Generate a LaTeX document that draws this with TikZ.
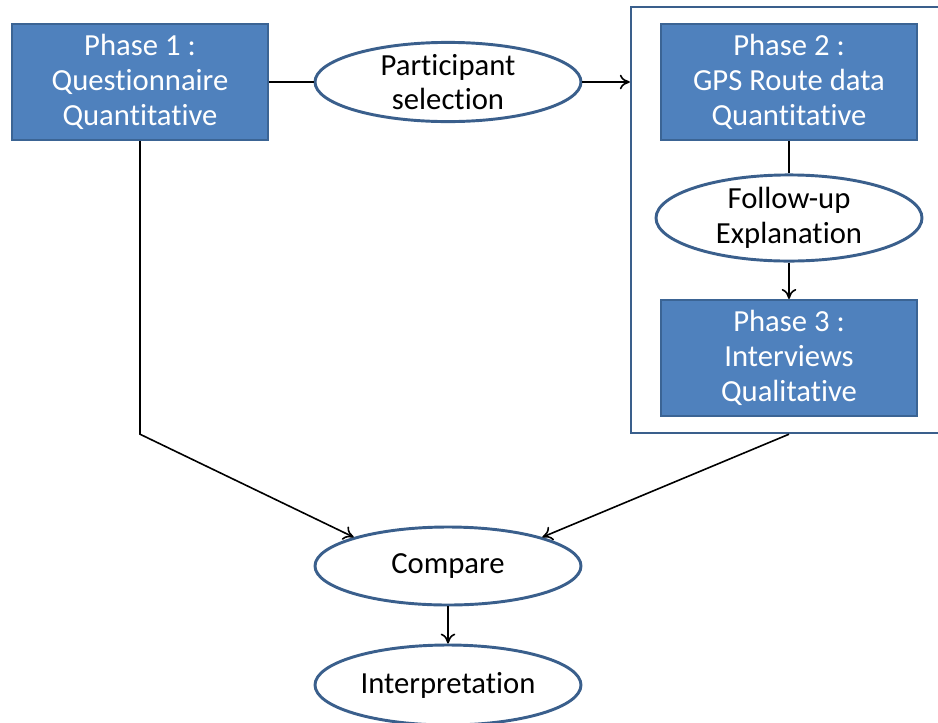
\documentclass[tikz,border=0pt]{standalone}
\usepackage{fontspec}
\setmainfont[Ligatures=NoCommon]{Carlito}
\usetikzlibrary{shapes.geometric,arrows.meta}
\definecolor{boxfill}{HTML}{4F81BD}
\definecolor{boxline}{HTML}{3B6494}
\definecolor{ovalline}{HTML}{3A5F8C}
\tikzset{
  phasebox/.style={rectangle, draw=boxline, line width=1.6pt, fill=boxfill,
    text=white, align=center, minimum width=192pt, minimum height=87pt,
    font=\fontsize{23}{26}\selectfont, inner sep=0pt},
  oval/.style={ellipse, draw=ovalline, line width=2.2pt, fill=white,
    align=center, minimum width=199.5pt, minimum height=58.5pt,
    font=\fontsize{23}{26}\selectfont, inner sep=0pt},
  frame/.style={rectangle, draw=ovalline, line width=1.8pt,
    minimum width=237pt, minimum height=319.5pt, inner sep=0pt},
  link/.style={draw=black, line width=1.2pt},
  arrowlink/.style={link, -{To[length=7.5pt, width=11pt, line width=1.2pt]}},
}
\begin{document}
\begin{tikzpicture}[x=0.75pt, y=-0.75pt]
  \useasboundingbox (0,0) rectangle (938,722);
  \clip (0,0) rectangle (938,722);
  % enclosing frame of phases 2 and 3
  \node[frame] (grp) at (789,220) {};
  % nodes
  \node[phasebox] (p1) at (140,82) {Phase 1 :\\Questionnaire\\Quantitative};
  \node[oval] (sel) at (448,82) {Participant\\selection};
  \node[phasebox] (p2) at (789,82) {Phase 2 :\\GPS Route data\\Quantitative};
  \node[oval, minimum height=60pt] (fu) at (789,218) {Follow-up\\Explanation};
  \node[phasebox] (p3) at (789,358) {Phase 3 :\\Interviews\\Qualitative};
  \node[oval] (cmp) at (448,566) {Compare};
  \node[oval, minimum height=60pt] (interp) at (448,685) {Interpretation};
  \coordinate (bend) at (p1.south |- grp.south);
  \coordinate (gbot) at (fu.south |- grp.south);
  % connectors
  \draw[link] (p1.east) -- (sel.west);
  \draw[arrowlink] (sel.east) -- (sel.east -| grp.west);
  \draw[link] (p2.south) -- (fu.north);
  \draw[arrowlink] (fu.south) -- (p3.north);
  \draw[arrowlink] (p1.south) -- (bend) -- (cmp.163);
  \draw[arrowlink] (gbot) -- (cmp.17);
  \draw[arrowlink] (cmp.south) -- (interp.north);
\end{tikzpicture}
\end{document}
